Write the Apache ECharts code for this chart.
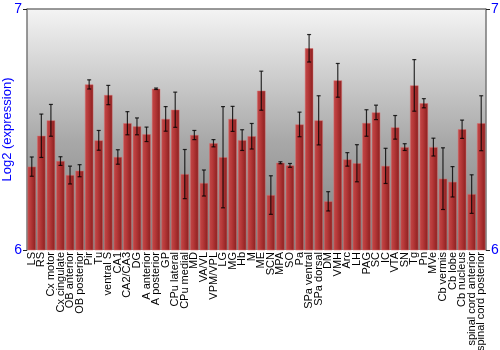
<!DOCTYPE html>
<html>
<head>
<meta charset="utf-8">
<script src="https://cdn.jsdelivr.net/npm/echarts@6/dist/echarts.min.js"></script>
<style>
  html, body { margin: 0; padding: 0; background: #fff; }
  #chart { width: 500px; height: 350px; }
</style>
</head>
<body>
<div id="chart"></div>
<script>
const categories = ['LS', 'RS', 'Cx motor', 'Cx cingulate', 'OB anterior', 'OB posterior', 'Pir', 'Tu', 'ventral S', 'CA1',
  'CA2/CA3', 'DG', 'A anterior', 'A posterior', 'GP', 'CPu lateral', 'CPu medial', 'MD', 'VA/VL', 'VPM/VPL',
  'LG', 'MG', 'Hb', 'M', 'ME', 'SCN', 'MPA', 'SO', 'Pa', 'SPa ventral',
  'SPa dorsal', 'DM', 'VMH', 'Arc', 'LH', 'PAG', 'SC', 'IC', 'VTA', 'SN',
  'Tg', 'Pn', 'MVe', 'Cb vermis', 'Cb lobe', 'Cb nucleus', 'spinal cord anterior', 'spinal cord posterior']

const values = [6.346, 6.474, 6.538, 6.369, 6.311, 6.329, 6.687, 6.455, 6.643, 6.386,
  6.526, 6.513, 6.48, 6.669, 6.544, 6.582, 6.315, 6.477, 6.278, 6.443,
  6.385, 6.544, 6.456, 6.472, 6.661, 6.228, 6.362, 6.351, 6.521, 6.837,
  6.538, 6.202, 6.704, 6.376, 6.36, 6.527, 6.571, 6.349, 6.509, 6.427,
  6.683, 6.609, 6.427, 6.296, 6.283, 6.501, 6.232, 6.526]

const errors = [0.04, 0.09, 0.066, 0.018, 0.037, 0.025, 0.019, 0.041, 0.04, 0.03,
  0.048, 0.035, 0.03, 0.003, 0.051, 0.073, 0.102, 0.019, 0.054, 0.015,
  0.21, 0.052, 0.043, 0.053, 0.081, 0.08, 0.004, 0.008, 0.051, 0.057,
  0.102, 0.04, 0.07, 0.028, 0.077, 0.055, 0.03, 0.073, 0.049, 0.014,
  0.107, 0.019, 0.037, 0.128, 0.063, 0.038, 0.08, 0.114]

const yTicks = { min: 6, max: 7, interval: 1 }

const errData = values.map((v, i) => [i, v - errors[i], v + errors[i]])

const yAxisBase = {
  type: 'value',
  min: yTicks.min,
  max: yTicks.max,
  interval: yTicks.interval,
  splitLine: { show: false },
  axisLine: { show: true, lineStyle: { color: '#777', width: 1.5 } },
  axisTick: { show: true, length: 4, lineStyle: { color: '#222' } },
  axisLabel: { color: '#0000ff', fontSize: 14, fontFamily: 'Liberation Sans, Arial, sans-serif', margin: 5 },
}

const option = {
  animation: false,
  grid: {
    left: 27, right: 14, top: 9, bottom: 100,
    outerBoundsMode: 'none',
    containLabel: false,
    show: true,
    borderWidth: 0,
    backgroundColor: {
      type: 'linear', x: 0, y: 0, x2: 0, y2: 1,
      colorStops: [
        { offset: 0, color: '#f4f4f4' },
        { offset: 0.55, color: '#a8a8a8' },
        { offset: 1, color: '#7e7e7e' },
      ],
    },
  },
  xAxis: {
    type: 'category',
    data: categories,
    axisLine: { show: false },
    axisTick: { show: false },
    axisLabel: {
      interval: 0,
      rotate: 90,
      color: '#000',
      fontSize: 11,
      fontFamily: 'Liberation Sans, Arial, sans-serif',
      margin: 2,
      lineHeight: 10,
    },
  },
  yAxis: [
    {
      ...yAxisBase,
      name: 'Log2 (expression)',
      nameLocation: 'middle',
      nameGap: 13,
      nameMoveOverlap: false,
      nameTextStyle: { color: '#0000ff', fontSize: 13, fontFamily: 'Liberation Sans, Arial, sans-serif' },
    },
    { ...yAxisBase, position: 'right' },
  ],
  series: [
    {
      type: 'bar',
      data: values,
      barCategoryGap: '12%',
      itemStyle: {
        color: {
          type: 'linear', x: 0, y: 0, x2: 1, y2: 0,
          colorStops: [
            { offset: 0, color: '#c04848' },
            { offset: 0.35, color: '#b83a3a' },
            { offset: 1, color: '#8a1e1e' },
          ],
        },
        borderColor: 'rgba(220,110,110,0.8)',
        borderWidth: 0.6,
      },
    },
    {
      type: 'custom',
      data: errData,
      z: 10,
      renderItem: (params, api) => {
        const x = api.value(0)
        const lo = api.coord([x, api.value(1)])
        const hi = api.coord([x, api.value(2)])
        const hw = 2
        const style = { stroke: 'rgba(0,0,0,0.8)', lineWidth: 1.2 }
        return {
          type: 'group',
          children: [
            { type: 'line', shape: { x1: lo[0], y1: lo[1], x2: hi[0], y2: hi[1] }, style },
            { type: 'line', shape: { x1: lo[0] - hw, y1: lo[1], x2: lo[0] + hw, y2: lo[1] }, style },
            { type: 'line', shape: { x1: hi[0] - hw, y1: hi[1], x2: hi[0] + hw, y2: hi[1] }, style },
          ],
        }
      },
    },
  ],
  graphic: [
    { type: 'line', shape: { x1: 27, y1: 9, x2: 486, y2: 9 }, style: { stroke: '#777', lineWidth: 1.5 } },
  ],
}

const c = echarts.init(document.getElementById('chart'))
c.setOption(option)
</script>
</body>
</html>
